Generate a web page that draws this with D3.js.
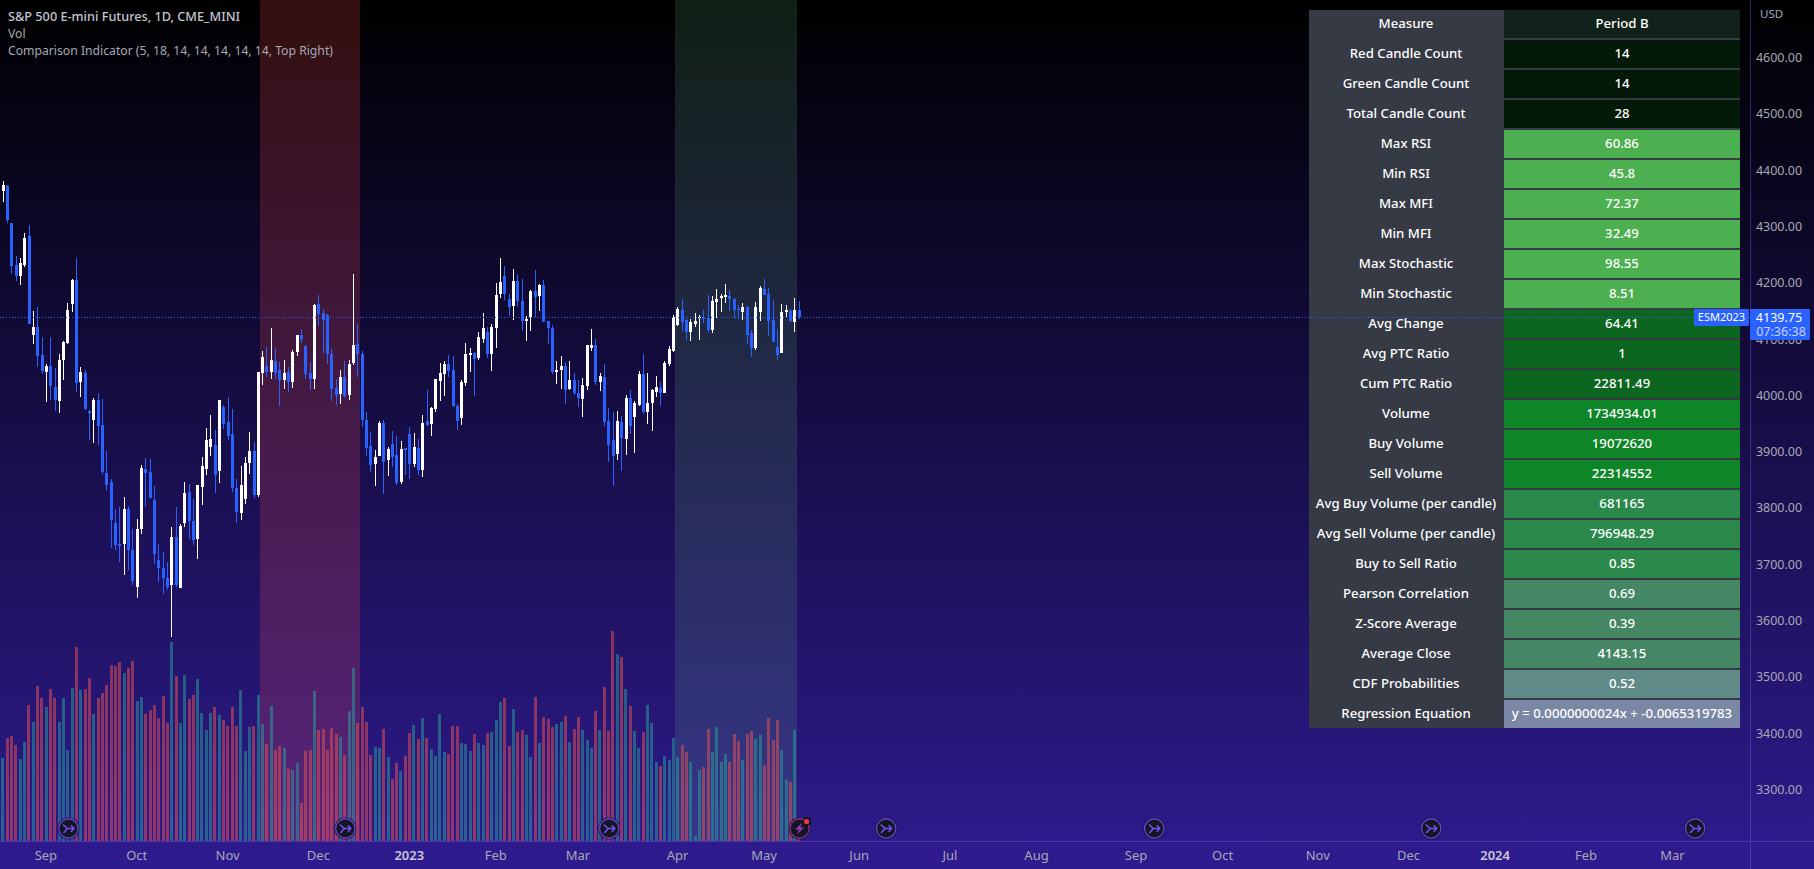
<!DOCTYPE html>
<html>
<head>
<meta charset="utf-8">
<script src="https://cdn.jsdelivr.net/npm/d3@7"></script>
<style>
html,body{margin:0;padding:0;background:#000;overflow:hidden}
svg{display:block}
text{font-family:"Noto Sans",sans-serif}
</style>
</head>
<body>
<svg id="c" width="1814" height="869"></svg>
<script>
const opens = [
4363,4372,4306,4232,4212,4232,4283,4107,4121,4072,
4041,4052,4015,3990,4063,4093,4162,4205,4024,4040,
3972,3956,3992,3947,3862,3846,3773,3736,3736,3798,
3725,3659,3762,3869,3864,3814,3707,3693,3675,3663,
3748,3658,3773,3828,3777,3745,3837,3869,3908,3912,
3866,3979,3953,3931,3835,3791,3816,3880,3901,3823,
4040,4052,4041,4061,4045,4027,4041,4024,4077,4107,
4088,4040,4029,4162,4146,4143,4073,4013,4002,4033,
4001,4057,4091,4073,3956,3910,3878,3892,3951,3885,
3914,3894,3846,3906,3931,3878,3906,3867,3954,3949,
3976,4025,4038,4056,4045,3981,3960,4022,4072,4075,
4066,4100,4113,4073,4120,4180,4212,4171,4159,4203,
4168,4132,4139,4185,4177,4196,4132,4120,4041,4045,
4052,4011,4027,4004,3994,4017,4084,4089,4024,4033,
3954,3921,3896,3953,3922,3995,3962,3983,4038,3970,
3986,4006,4013,4004,4056,4079,4125,4152,4134,4113,
4127,4137,4137,4137,4116,4166,4173,4175,4177,4171,
4153,4148,4157,4111,4084,4148,4189,4180,4134,4086,
4075,4148,4150,4130,4152];
const closes = [
4374,4312,4230,4212,4235,4280,4127,4121,4070,4043,
4052,4017,3992,4063,4095,4152,4205,4022,4041,3976,
3969,3992,3946,3864,3841,3779,3734,3732,3798,3725,
3670,3762,3871,3862,3818,3718,3693,3675,3659,3748,
3663,3768,3826,3777,3743,3841,3874,3921,3922,3858,
3992,3949,3928,3835,3793,3841,3880,3901,3823,4041,
4068,4041,4063,4040,4027,4040,4024,4077,4107,4100,
4038,4029,4161,4145,4134,4073,4011,4001,4033,3999,
4056,4089,4073,3956,3906,3876,3890,3951,3882,3905,
3890,3844,3905,3903,3878,3908,3867,3951,3947,3978,
4029,4040,4056,4043,3981,3954,4024,4073,4075,4065,
4104,4120,4073,4121,4178,4201,4180,4157,4203,4168,
4132,4136,4185,4175,4196,4130,4120,4041,4045,4052,
4009,4027,4004,3995,4018,4089,4089,4024,4034,3953,
3912,3892,3954,3924,3995,3946,3986,4038,3970,3986,
4009,4015,4004,4058,4082,4139,4153,4130,4113,4130,
4132,4139,4136,4116,4168,4171,4177,4178,4171,4152,
4152,4157,4107,4084,4157,4191,4178,4132,4095,4072,
4148,4152,4132,4152,4139.75];
const highs = [
4381,4374,4306,4248,4244,4289,4303,4150,4157,4104,
4056,4104,4049,4073,4097,4164,4207,4244,4050,4045,
3974,3995,4004,3994,3901,3851,3798,3802,3819,3803,
3762,3780,3876,3889,3887,3839,3736,3722,3704,3766,
3802,3771,3846,3842,3816,3841,3890,3942,3965,3938,
3992,3983,3997,3976,3851,3874,3890,3935,3917,4041,
4079,4086,4120,4084,4059,4063,4050,4081,4107,4118,
4089,4059,4162,4178,4153,4145,4082,4029,4045,4061,
4063,4216,4127,4079,3970,3935,3903,3954,3956,3908,
3937,3928,3919,3906,3944,3933,3922,3965,4010,3979,
4029,4057,4061,4072,4070,3985,4027,4093,4084,4077,
4113,4146,4121,4127,4200,4244,4230,4180,4225,4216,
4207,4141,4187,4223,4198,4205,4132,4125,4061,4070,
4059,4061,4040,4027,4031,4089,4118,4100,4040,4056,
3978,3970,3972,3963,4001,4010,3990,4043,4073,4040,
4011,4034,4024,4061,4088,4143,4157,4171,4136,4136,
4146,4143,4152,4178,4177,4189,4180,4198,4187,4173,
4161,4164,4159,4116,4166,4194,4207,4191,4168,4118,
4162,4161,4153,4173,4168];
const lows = [
4344,4306,4216,4203,4196,4228,4127,4091,4050,4038,
3988,3992,3972,3969,4027,4091,4148,4006,3997,3974,
3921,3915,3912,3860,3832,3729,3725,3704,3681,3690,
3663,3640,3754,3802,3818,3700,3668,3647,3654,3570,
3659,3658,3766,3745,3734,3709,3805,3858,3892,3826,
3844,3940,3921,3828,3773,3778,3807,3860,3818,3819,
4018,4033,4029,4029,3981,4011,4006,4013,4070,4093,
4029,4009,4011,4123,4075,4056,3990,3983,3985,3995,
3992,4054,4033,3944,3892,3864,3839,3892,3825,3857,
3873,3841,3842,3858,3851,3873,3858,3855,3946,3928,
3970,3990,3999,4033,3979,3938,3947,4017,4041,3999,
4063,4093,4066,4043,4084,4173,4169,4141,4134,4157,
4114,4097,4114,4139,4150,4130,4091,4038,4020,4011,
3985,4009,4001,3979,3962,4009,4079,4018,4008,3946,
3882,3839,3885,3866,3894,3931,3898,3981,3967,3949,
3937,3997,3981,4004,4052,4077,4123,4114,4098,4097,
4121,4098,4129,4113,4111,4137,4148,4164,4150,4137,
4136,4134,4091,4068,4081,4132,4178,4105,4095,4063,
4075,4139,4130,4113,4136];
// volume, thousands of contracts
const volumes = [
1245,1545,1575,1440,1230,1485,2040,1785,2325,2145,
2010,2280,2145,1785,2145,1365,2295,2910,2265,2280,
2445,1905,2145,2220,2340,2640,2625,2685,2520,2595,
2700,2100,2160,1905,1965,2040,1845,2175,1770,2985,
2475,1770,2490,2130,2190,2430,1920,1665,1920,2010,
1890,1815,1725,2010,1725,2265,1350,1710,1725,2190,
1755,1455,2025,1365,1425,1395,1080,1065,1170,570,
1350,1365,2250,1665,1680,1365,1695,1605,1560,1290,
1950,2595,1770,2010,1785,1290,1410,1395,1680,1260,
930,1170,1050,1275,1620,1740,1530,1845,1545,1380,
1275,1905,1335,1305,1725,1725,1470,1455,1350,1605,
1470,1440,1620,1635,1815,2085,2145,1425,1980,1635,
1665,1590,1260,2160,1470,1860,1830,1710,1755,1785,
1875,1485,1680,1860,1665,1515,1395,1950,1665,2310,
1650,3150,2805,2760,2280,2025,1650,1395,1635,2040,
1770,1185,1125,1275,1215,1545,1260,1440,1335,1185,
75,1065,1110,1680,1335,1710,1185,1305,1185,1605,
1500,1215,1605,1650,1530,1590,1140,1845,1515,1815,
1365,915,885,1665,75];

const priceTicks = [4600,4500,4400,4300,4200,4100,4000,3900,3800,3700,3600,3500,3400,3300];
const monthLabels = ["Sep","Oct","Nov","Dec","2023","Feb","Mar","Apr","May","Jun","Jul","Aug","Sep","Oct","Nov","Dec","2024","Feb","Mar"];
const monthBars = [10,31,52,73,94,114,133,156,176,198,219,239,262,282,304,325,345,366,386];
const eventBars = [15,79,140,204,266,330,391];
const lastEventBar = 184;
const periodA = [60,83];
const periodB = [156,184];

const tableLabels = ["Measure","Red Candle Count","Green Candle Count","Total Candle Count","Max RSI","Min RSI","Max MFI","Min MFI","Max Stochastic","Min Stochastic","Avg Change","Avg PTC Ratio","Cum PTC Ratio","Volume","Buy Volume","Sell Volume","Avg Buy Volume (per candle)","Avg Sell Volume (per candle)","Buy to Sell Ratio","Pearson Correlation","Z-Score Average","Average Close","CDF Probabilities","Regression Equation"];
const tableValues = ["Period B","14","14","28","60.86","45.8","72.37","32.49","98.55","8.51","64.41","1","22811.49","1734934.01","19072620","22314552","681165","796948.29","0.85","0.69","0.39","4143.15","0.52","y = 0.0000000024x + -0.0065319783"];
const tableColors = ["#11221a","#031a08","#031a08","#031a08","#4caf50","#4caf50","#4caf50","#4caf50","#4caf50","#4caf50","#0c661f","#0c661f","#0c661f","#0e8527","#0e8527","#0e8527","#2b8a4b","#2b8a4b","#2b8a4b","#458764","#458764","#458764","#5f8a88","#7a88a5"];

const legendLines = ["S&P 500 E-mini Futures, 1D, CME_MINI","Vol","Comparison Indicator (5, 18, 14, 14, 14, 14, 14, Top Right)"];

const W=1814,H=869,plotRight=1750,plotBottom=841;
const svg=d3.select("#c");
const defs=svg.append("defs");
const grad=defs.append("linearGradient").attr("id","bg").attr("x1",0).attr("x2",0).attr("y1",0).attr("y2",1);
grad.append("stop").attr("offset","0%").attr("stop-color","#000000");
grad.append("stop").attr("offset","100%").attr("stop-color","#2f1b90");
svg.append("rect").attr("width",W).attr("height",H).attr("fill","url(#bg)");

const x=d3.scaleLinear().domain([0,184]).range([2.1,798.1]);
const y=d3.scaleLinear().domain([4600,3300]).range([57.7,789.3]);
const v=d3.scaleLinear().domain([0,3150]).range([plotBottom,631]);
const idx=d3.range(opens.length);

// highlighted periods
const bandRect=(p,fill)=>svg.append("rect")
  .attr("x",Math.round(x(p[0])-2)).attr("width",Math.round(x(p[1])-1)-Math.round(x(p[0])-2))
  .attr("y",0).attr("height",plotBottom).attr("fill",fill);
bandRect(periodA,"rgba(255,82,82,0.2)");
bandRect(periodB,"rgba(100,190,130,0.17)");

// axis lines
svg.append("line").attr("x1",plotRight+.5).attr("x2",plotRight+.5).attr("y1",0).attr("y2",H).attr("stroke","rgba(120,100,220,0.38)");
svg.append("line").attr("x1",0).attr("x2",W).attr("y1",plotBottom+.5).attr("y2",plotBottom+.5).attr("stroke","rgba(120,100,220,0.38)");

// volume
svg.append("g").selectAll("rect").data(idx).join("rect")
  .attr("x",i=>Math.floor(x(i)-0.11)).attr("width",3)
  .attr("y",i=>Math.round(v(volumes[i]))).attr("height",i=>plotBottom-Math.round(v(volumes[i])))
  .attr("fill",i=>closes[i]>=opens[i]?"rgba(38,166,154,0.5)":"rgba(239,83,80,0.5)");

// candles
const up="#ffffff",down="#2962ff";
const cg=svg.append("g");
cg.selectAll("rect.w").data(idx).join("rect").attr("class","w")
  .attr("x",i=>Math.floor(x(i))+1).attr("width",1)
  .attr("y",i=>Math.round(y(highs[i]))).attr("height",i=>Math.max(1,Math.round(y(lows[i]))-Math.round(y(highs[i]))))
  .attr("fill",i=>closes[i]>=opens[i]?up:down);
cg.selectAll("rect.b").data(idx).join("rect").attr("class","b")
  .attr("x",i=>Math.floor(x(i))).attr("width",3)
  .attr("y",i=>Math.round(y(Math.max(opens[i],closes[i]))))
  .attr("height",i=>Math.max(1,Math.round(y(Math.min(opens[i],closes[i])))-Math.round(y(Math.max(opens[i],closes[i])))))
  .attr("fill",i=>closes[i]>=opens[i]?up:down);

// table
const rowY=d3.scaleLinear().domain([0,1]).range([10,40]);
const tbl=svg.append("g");
tbl.append("rect").attr("x",1309).attr("y",10).attr("width",431).attr("height",718).attr("fill","#363a45");
tbl.selectAll("rect.c").data(tableColors).join("rect").attr("class","c")
  .attr("x",1504).attr("width",236).attr("y",(d,i)=>rowY(i)).attr("height",28).attr("fill",d=>d);
tbl.selectAll("text.l").data(tableLabels).join("text").attr("class","l")
  .attr("x",1406).attr("y",(d,i)=>rowY(i)+13).attr("dy","0.35em").attr("text-anchor","middle")
  .attr("font-size",13.2).attr("font-weight",500).attr("fill","#ffffff").text(d=>d);
tbl.selectAll("text.v").data(tableValues).join("text").attr("class","v")
  .attr("x",1622).attr("y",(d,i)=>rowY(i)+13).attr("dy","0.35em").attr("text-anchor","middle")
  .attr("font-size",13.2).attr("font-weight",500).attr("fill","#ffffff").text(d=>d);

// price axis
const yAxis=d3.axisRight(y).tickValues(priceTicks).tickFormat(d3.format(".2f")).tickSize(0).tickPadding(0);
const ya=svg.append("g").attr("transform","translate(1779,0)").call(yAxis);
ya.select(".domain").remove();
ya.selectAll("text").attr("text-anchor","middle").attr("font-family",'"Noto Sans",sans-serif').attr("font-size",12.5).attr("fill","#a8a8b4");
svg.append("text").attr("x",1760).attr("y",14).attr("dy","0.35em").attr("font-size",11.5).attr("fill","#a8a8b4").text("USD");

// time axis
const xa=svg.append("g").attr("transform","translate(0,855)");
xa.selectAll("text").data(monthLabels).join("text")
  .attr("x",(d,i)=>x(monthBars[i])+.5).attr("dy","0.35em").attr("text-anchor","middle")
  .attr("font-size",13).attr("font-weight",d=>/^\d/.test(d)?600:400)
  .attr("fill",d=>/^\d/.test(d)?"#c8c8d4":"#a8a8b4").text(d=>d);

// event icons
const ev=svg.append("g").selectAll("g").data(eventBars).join("g")
  .attr("transform",d=>`translate(${x(d)+1.5},828.5)`);
ev.append("circle").attr("r",11).attr("fill","#131722");
ev.append("circle").attr("r",9.7).attr("fill","#131722").attr("stroke","#6a3fd6").attr("stroke-width",1.4);
ev.append("path").attr("d","M-5.5,-4 L-1,0 L5.5,0 M2.5,-3.2 L5.5,0 L2.5,3.2 M-1,0 L-5,4.5").attr("fill","none").attr("stroke","#7c4dff").attr("stroke-width",1.5);
const le=svg.append("g").attr("transform",`translate(${x(lastEventBar)+1.5},828.5)`);
le.append("circle").attr("r",11).attr("fill","#131722");
le.append("circle").attr("r",9.7).attr("fill","#131722").attr("stroke","#8a2a94").attr("stroke-width",1.4);
le.append("path").attr("d","M2.5,-6 L-4.5,1 L-0.5,1 L-2.5,6 L4.5,-1 L0.5,-1 Z").attr("fill","#9c36b5");
le.append("rect").attr("x",3.5).attr("y",-11.5).attr("width",8).attr("height",8).attr("rx",2).attr("fill","#131722");
le.append("circle").attr("cx",7).attr("cy",-7).attr("r",2.6).attr("fill","#f23645");

// price line
const last=closes[closes.length-1];
svg.append("line").attr("x1",0).attr("x2",plotRight).attr("y1",Math.round(y(last))+.5).attr("y2",Math.round(y(last))+.5)
  .attr("stroke","#2962ff").attr("stroke-width",1).attr("stroke-dasharray","1 2");
svg.append("rect").attr("x",1694).attr("y",309).attr("width",55).attr("height",17).attr("rx",1).attr("fill","#2962ff");
svg.append("text").attr("x",1721.5).attr("y",317.5).attr("dy","0.35em").attr("text-anchor","middle").attr("font-size",11).attr("fill","#fff").text("ESM2023");
svg.append("rect").attr("x",1750).attr("y",309).attr("width",60).attr("height",31).attr("rx",1).attr("fill","#2962ff");
svg.append("text").attr("x",1779).attr("y",317.5).attr("dy","0.35em").attr("text-anchor","middle").attr("font-size",12.5).attr("fill","#fff").text(d3.format(".2f")(last));
svg.append("text").attr("x",1781).attr("y",332).attr("dy","0.35em").attr("text-anchor","middle").attr("font-size",12.5).attr("fill","#c6d4ff").text("07:36:38");

// legend
svg.append("g").selectAll("text").data(legendLines).join("text")
  .attr("x",8).attr("y",(d,i)=>17+i*17).attr("dy","0.35em").attr("font-size",(d,i)=>i==0?12.7:12.2)
  .attr("font-weight",(d,i)=>i==0?500:400).attr("fill",(d,i)=>i==0?"#c3c6ce":"#a6a9b2").text(d=>d);
</script>
</body>
</html>
